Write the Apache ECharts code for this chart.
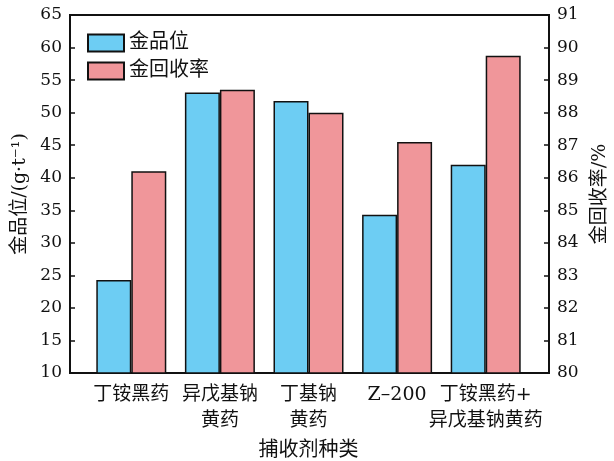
<!DOCTYPE html>
<html>
<head>
<meta charset="utf-8">
<script src="https://cdn.jsdelivr.net/npm/echarts@6/dist/echarts.min.js"></script>
<style>
  html, body { margin: 0; padding: 0; background: #fff; }
  #chart { width: 614px; height: 461px; }
</style>
</head>
<body>
<div id="chart"></div>
<script>
// Collector types (x axis categories)
const categories = ['丁铵黑药', '异戊基钠\n黄药', '丁基钠\n黄药', 'Z–200', '丁铵黑药+\n异戊基钠黄药'];
// Gold grade, g/t (left axis)
const goldGrade = [24.3, 53.1, 51.8, 34.3, 42.0];
// Gold recovery, % (right axis)
const goldRecovery = [86.2, 88.7, 88.0, 87.1, 89.75];
// Axis ranges
const gradeAxis = { min: 10, max: 65, interval: 5 };
const recoveryAxis = { min: 80, max: 91, interval: 1 };

const serif = '"DejaVu Serif", "Noto Sans CJK SC", serif';
const cjk = '"DejaVu Serif", "Noto Sans CJK SC", sans-serif';
const black = '#111';

const chart = echarts.init(document.getElementById('chart'), null, { renderer: 'canvas' });

chart.setOption({
  animation: false,
  backgroundColor: '#fff',
  legend: {
    left: 82,
    top: 28,
    orient: 'vertical',
    icon: 'rect',
    itemWidth: 36,
    itemHeight: 17,
    itemGap: 8,
    textStyle: { fontFamily: cjk, fontSize: 20, color: black },
    data: ['金品位', '金回收率']
  },
  grid: [
    // outer frame with the two value axes
    { left: 70, right: 65, top: 15, bottom: 88, outerBoundsMode: 'none', containLabel: false,
      show: true, borderColor: black, borderWidth: 2, backgroundColor: 'transparent' },
    // inner band holding the bar groups
    { left: 87, right: 84, top: 15, bottom: 88, outerBoundsMode: 'none', containLabel: false }
  ],
  xAxis: [
    { gridIndex: 0, type: 'category', data: categories, show: false },
    {
      gridIndex: 1,
      type: 'category',
      data: categories,
      axisLine: { show: false },
      axisTick: { show: false },
      axisLabel: { fontFamily: cjk, fontSize: 19, lineHeight: 26, color: black, margin: 9, interval: 0 },
      name: '捕收剂种类',
      nameLocation: 'middle',
      nameGap: 68,
      nameTextStyle: { fontFamily: cjk, fontSize: 20, color: black }
    }
  ],
  yAxis: [
    {
      gridIndex: 0, type: 'value', position: 'left',
      min: gradeAxis.min, max: gradeAxis.max, interval: gradeAxis.interval,
      axisLine: { show: true, lineStyle: { color: black, width: 2 } },
      axisTick: { show: true, inside: true, length: 5, lineStyle: { color: black, width: 1.5 } },
      axisLabel: { fontFamily: serif, fontSize: 17, color: black, margin: 8 },
      splitLine: { show: false },
      name: '金品位/(g·t⁻¹)',
      nameLocation: 'middle',
      nameRotate: 90,
      nameGap: 33,
      nameTextStyle: { fontFamily: cjk, fontSize: 19, color: black }
    },
    {
      gridIndex: 0, type: 'value', position: 'right',
      min: recoveryAxis.min, max: recoveryAxis.max, interval: recoveryAxis.interval,
      axisLine: { show: true, lineStyle: { color: black, width: 2 } },
      axisTick: { show: true, inside: true, length: 5, lineStyle: { color: black, width: 1.5 } },
      axisLabel: { fontFamily: serif, fontSize: 17, color: black, margin: 8 },
      splitLine: { show: false },
      name: '金回收率/%',
      nameLocation: 'middle',
      nameRotate: 90,
      nameGap: 42,
      nameTextStyle: { fontFamily: cjk, fontSize: 19, color: black }
    },
    { gridIndex: 1, type: 'value', min: gradeAxis.min, max: gradeAxis.max, show: false },
    { gridIndex: 1, type: 'value', min: recoveryAxis.min, max: recoveryAxis.max, show: false }
  ],
  series: [
    {
      name: '金品位',
      type: 'bar',
      xAxisIndex: 1,
      yAxisIndex: 2,
      data: goldGrade,
      barWidth: 35,
      barGap: '0%',
      itemStyle: { color: '#6dcdf3', borderColor: black, borderWidth: 1.5 }
    },
    {
      name: '金回收率',
      type: 'bar',
      xAxisIndex: 1,
      yAxisIndex: 3,
      data: goldRecovery,
      barWidth: 35,
      barGap: '0%',
      itemStyle: { color: '#f0969a', borderColor: black, borderWidth: 1.5 }
    }
  ]
});
</script>
</body>
</html>
